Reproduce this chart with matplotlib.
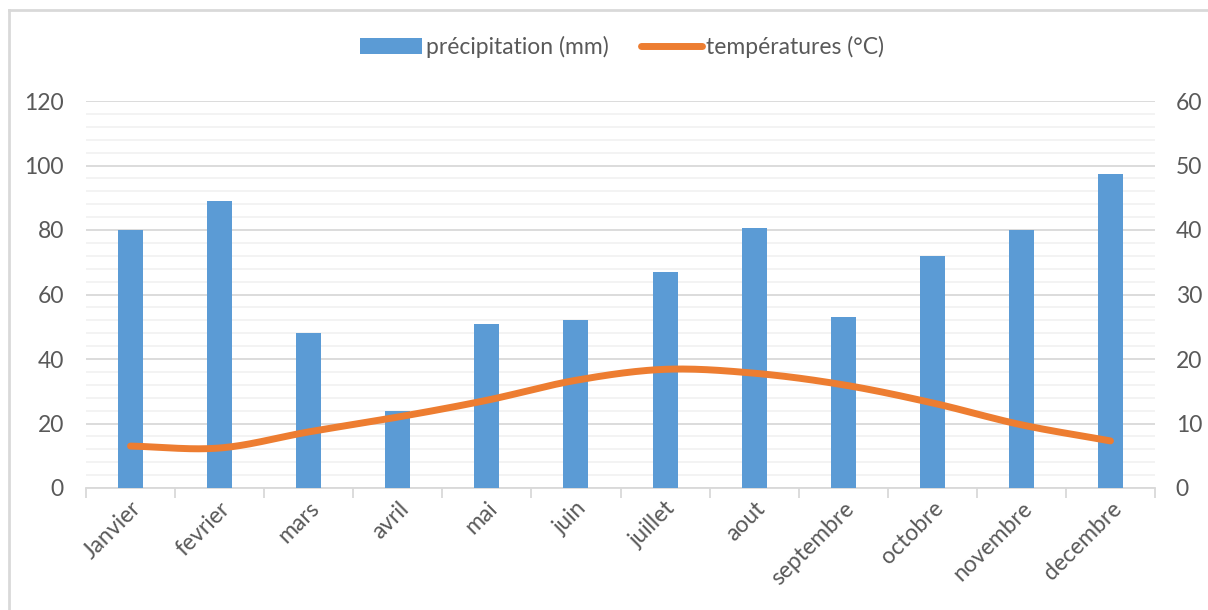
import numpy as np
import matplotlib
matplotlib.use("Agg")
import matplotlib.pyplot as plt
from matplotlib.lines import Line2D
from matplotlib.patches import Patch

months = ["Janvier", "fevrier", "mars", "avril", "mai", "juin", "juillet",
          "aout", "septembre", "octobre", "novembre", "decembre"]
precip = [80, 89, 48, 24, 51, 52, 67, 80.5, 53, 72, 80, 97.5]
temps = [6.5, 6.2, 8.7, 11.0, 13.6, 16.7, 18.4, 17.8, 16.0, 13.2, 9.8, 7.3]

BLUE = "#5B9BD5"
ORANGE = "#ED7D31"
TXT = "#595959"
GRID = "#D9D9D9"
MINOR = "#F2F2F2"
FS = 16.5

plt.rcParams['font.family'] = ['Lato', 'DejaVu Sans']

fig = plt.figure(figsize=(12.08, 6.10), dpi=100)
ax = fig.add_axes([86/1208, 1-488/610, (1155-86)/1208, (488-101)/610])
ax2 = ax.twinx()

x = np.arange(len(months))
ax.bar(x, precip, width=0.28, color=BLUE, zorder=3)
ax.set_xlim(-0.5, len(months)-0.5)
ax.set_ylim(0, 120)
ax.set_yticks(np.arange(0, 121, 20))
ax.set_yticks(np.arange(0, 121, 4), minor=True)
ax.grid(axis='y', which='major', color=GRID, lw=1.3, zorder=0)
ax.grid(axis='y', which='minor', color=MINOR, lw=1.3, zorder=0)
ax.set_axisbelow(True)

# Catmull-Rom smoothing of temperature line
def catmull(xs, ys, n=30):
    xs = np.asarray(xs, float); ys = np.asarray(ys, float)
    px = np.concatenate([[2*xs[0]-xs[1]], xs, [2*xs[-1]-xs[-2]]])
    py = np.concatenate([[2*ys[0]-ys[1]], ys, [2*ys[-1]-ys[-2]]])
    outx, outy = [], []
    for i in range(1, len(px)-2):
        t = np.linspace(0, 1, n, endpoint=False)
        for arr, out in ((px, outx), (py, outy)):
            p0, p1, p2, p3 = arr[i-1], arr[i], arr[i+1], arr[i+2]
            out.extend(0.5*((2*p1) + (-p0+p2)*t + (2*p0-5*p1+4*p2-p3)*t**2 + (-p0+3*p1-3*p2+p3)*t**3))
    outx.append(xs[-1]); outy.append(ys[-1])
    return np.array(outx), np.array(outy)

sx, sy = catmull(x, temps)
ax2.plot(sx, sy, color=ORANGE, lw=5, solid_capstyle='round', zorder=4)
ax2.set_ylim(0, 60)
ax2.set_yticks(np.arange(0, 61, 10))

for a in (ax, ax2):
    for s in a.spines.values():
        s.set_visible(False)
    a.tick_params(axis='y', which='both', length=0, labelsize=FS, labelcolor=TXT)
ax.tick_params(axis='y', pad=16)
ax2.tick_params(axis='y', pad=15)

ax.spines['bottom'].set_visible(True)
ax.spines['bottom'].set_color(GRID)
ax.spines['bottom'].set_linewidth(1.3)
ax.set_xticks(np.arange(-0.5, len(months), 1.0))
ax.set_xticklabels([])
ax.tick_params(axis='x', which='major', length=7, color=GRID, width=1.3)
ax.set_xticks(x, minor=True)
ax.set_xticklabels(months, minor=True, rotation=45, ha='right',
                   rotation_mode='anchor', fontsize=FS, color=TXT)
ax.tick_params(axis='x', which='minor', length=0, pad=7)

ax.set_zorder(ax2.get_zorder()-1)
ax.patch.set_visible(True)
ax2.patch.set_visible(False)

handles = [Patch(facecolor=BLUE, edgecolor='none'),
           Line2D([0], [0], color=ORANGE, lw=5, solid_capstyle='round')]
fig.legend(handles, ["précipitation (mm)", "températures (°C)"],
           loc='center', bbox_to_anchor=(0.515, 1-47/610), ncol=2, frameon=False,
           fontsize=FS, labelcolor=TXT, handlelength=2.7, handleheight=0.7,
           handletextpad=0.15, columnspacing=1.4)

# chart border (left and top visible)
fig.add_artist(Line2D([9/1208, 9/1208], [0, 1-10/610], color=GRID, lw=2))
fig.add_artist(Line2D([9/1208, 1], [1-10/610, 1-10/610], color=GRID, lw=2))

fig.savefig("out.png", dpi=100)
